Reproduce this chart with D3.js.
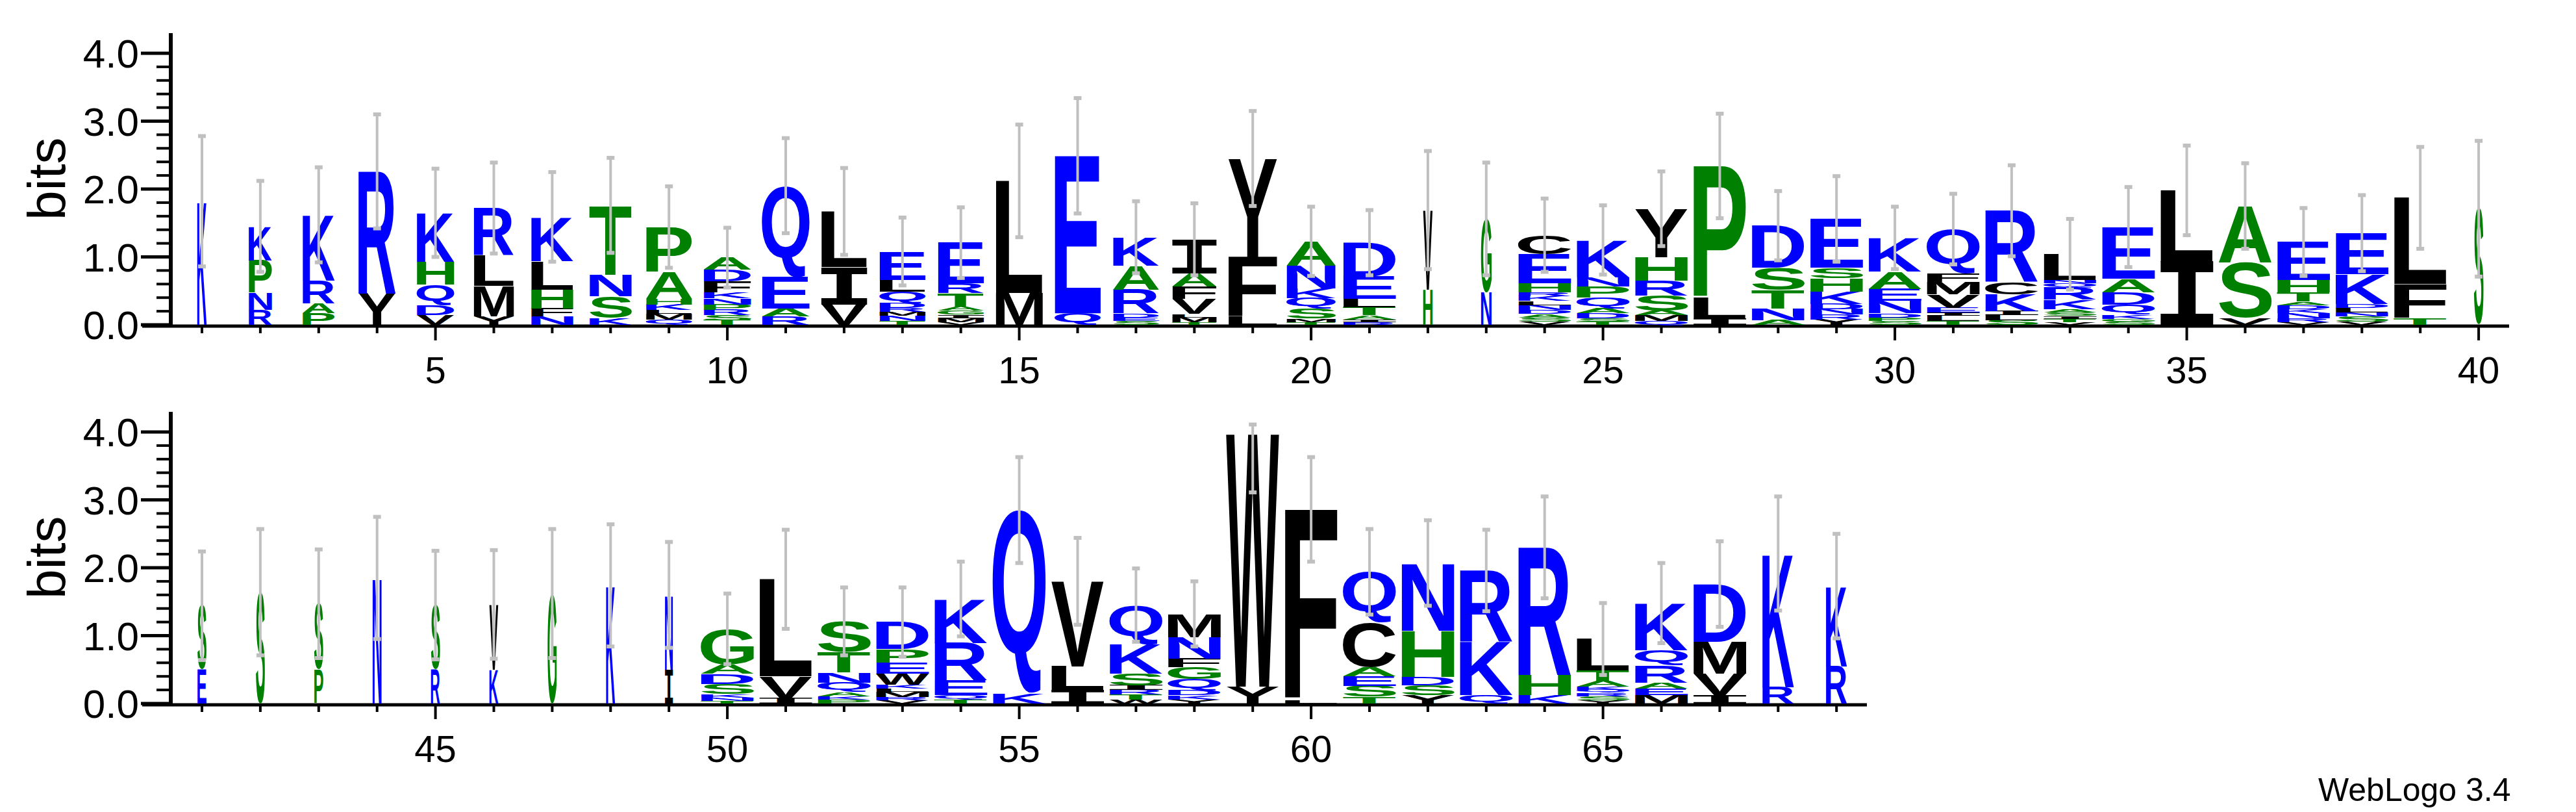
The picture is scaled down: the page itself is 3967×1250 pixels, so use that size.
<!DOCTYPE html>
<html><head><meta charset="utf-8">
<script src="https://cdn.jsdelivr.net/npm/d3@7"></script>
<style>body{margin:0;background:#fff}svg{display:block}</style>
</head><body>
<svg id="c" width="3967" height="1250"></svg>
<script>
// ---- data ----
const positions = d3.range(1, 70);
const stackLetters = [
 "K","RNPK","PARK","YR","VDQHK","YMLR","NFHLK","KSNT","QMLKHAP","TSRPNKFDA",
 "RAEQ","VIL","TNMRDQLE","VMIGATRE","ML","QE","SEDRAK","TMLVFAI","LFY","TMSQKNA",
 "RIATLED","HV","NG","VSADNLKRHEC","TSDAQPNK","QMASRHY","ILP","ANTSD","YRNDKHSE","SPDNEAK",
 "TLIEVMFQ","SLIKCR","VTISAKRQNL","SGKQDAE","IL","VSA","VRNKDATHE","VSNLDKE","TFL","S",
 "ES","S","PS","N","RS","KV","G","K","IN","TNKSDAG",
 "IVL","PKAQNTS","VRMLKWEPD","TQERK","KQ","ILV","WTRISKQ","YKDQGFNM","YW","LF",
 "TSEACQ","YSDHN","QKR","KHR","YSRQKATL","MEARQK","IVMD","RK","RK"];
const stackBits = [
 [1.82],[.22,.25,.48,.5],[.17,.15,.33,.97],[.46,1.8],[.14,.15,.3,.34,.72],[.12,.45,.45,.7],[.12,.12,.28,.42,.65],[.1,.32,.32,1.02],[.08,.08,.06,.08,.08,.4,.66],[.07,.07,.08,.08,.09,.09,.16,.17,.18],
 [.12,.12,.46,1.35],[.3,.55,.82],[.06,.07,.06,.06,.07,.17,.17,.42],[.04,.06,.05,.06,.06,.2,.14,.6],[.47,1.65],[.17,2.32],[.06,.05,.06,.35,.35,.42],[.04,.07,.05,.22,.18,.2,.5],[.12,.88,1.45],[.04,.05,.15,.15,.15,.33,.36],
 [.04,.04,.06,.12,.12,.33,.5],[.52,1.17],[.48,1.08],[.05,.06,.05,.06,.07,.06,.07,.06,.13,.43,.28],[.05,.05,.07,.07,.16,.16,.14,.55],[.06,.08,.07,.22,.22,.35,.71],[.1,.3,1.94],[.07,.17,.27,.33,.62],[.08,.07,.08,.08,.18,.2,.15,.72],[.06,.05,.06,.18,.18,.25,.5],
 [.06,.07,.05,.07,.2,.18,.12,.66],[.07,.07,.06,.25,.18,1.05],[.04,.05,.04,.05,.05,.14,.18,.06,.05,.38],[.05,.04,.06,.15,.18,.2,.76],[.93,1.05],[.1,.82,.83],[.04,.06,.07,.06,.06,.05,.14,.18,.56],[.05,.07,.06,.07,.06,.44,.6],[.1,.5,1.27],[1.71],
 [.5,.94],[1.64],[.5,.97],[1.85],[.5,.95],[.5,.96],[1.62],[1.74],[.5,1.1],[.04,.05,.05,.15,.15,.14,.52],
 [.08,.32,1.43],[.06,.05,.06,.14,.15,.3,.45],[.05,.05,.07,.05,.06,.16,.16,.2,.4],[.06,.06,.22,.55,.65],[.15,2.7],[.2,.35,1.25],[.06,.07,.07,.07,.17,.43,.58],[.06,.06,.07,.17,.17,.13,.32,.34],[.25,3.72],[.05,2.81],
 [.1,.16,.14,.14,.65,.75],[.12,.15,.12,.68,1.0],[.12,.8,1.04],[.12,.3,1.88],[.05,.06,.05,.04,.05,.08,.16,.46],[.12,.1,.09,.25,.22,.7],[.12,.32,.47,.85],[.24,1.97],[.55,1.18]];
const stackErr = [
 .96,.67,.7,.84,.65,.67,.66,.7,.6,.44,.7,.64,.5,.52,.83,.85,.53,.53,.7,.51,
 .48,.87,.83,.54,.51,.55,.77,.51,.63,.46,.52,.67,.52,.59,.66,.63,.5,.56,.75,1.0,
 .8,.93,.8,.9,.8,.8,.95,.9,.78,.52,.73,.5,.51,.55,.78,.64,.54,.48,.86,.77,
 .63,.63,.6,.75,.53,.59,.63,.84,.77];
const stackWidth = [
 .18,.44,.61,.71,.71,.76,.8,.8,.87,.9,.9,.87,.87,.87,.89,.87,.87,.84,.93,.93,
 1,.18,.2,1,1,1,1,1,1,1,1,1,1,1,1,1,1,1,1,.18,
 .17,.17,.17,.17,.17,.17,.17,.17,.15,1,1,1,1,1,1,1,1,1,1,1,
 1,1,1,1,1,1,1,.6,.4];
const yTicks = [0,1,2,3,4];
const xMajor = [5,10,15,20,25,30,35,40,45,50,55,60,65];
const blueSet = "KRNQDE", greenSet = "HPATSG";

// ---- drawing ----
const svg = d3.select("#c");
const FONT = "Liberation Sans, Arial, sans-serif";
const MONO = "DejaVu Sans Mono";
const cv = document.createElement("canvas").getContext("2d");
const metrics = {};
function fam(ch){ return ch==="I" ? MONO : "Liberation Sans"; }
function met(ch){
  if(!metrics[ch]){ cv.font = `bold 100px '${fam(ch)}'`; metrics[ch]=cv.measureText(ch); }
  return metrics[ch];
}
const color = ch => blueSet.includes(ch) ? "#0000ff" : greenSet.includes(ch) ? "#008000" : "#000000";
const errMax = 4.11;

const panels = [
 {from:1,to:40,zeroY:500,top:51,xEnd:3864},
 {from:41,to:69,zeroY:1083,top:634,xEnd:2875}];
const bitPx = 104.5, colW = 89.9, fullW = 82;

panels.forEach(p=>{
  const g = svg.append("g");
  const x = d3.scaleLinear().domain([p.from, p.from+1]).range([311, 311+colW]);
  const y = d3.scaleLinear().domain([0,4]).range([p.zeroY, p.zeroY-4*bitPx]);
  g.append("line").attr("x1",263).attr("x2",263).attr("y1",p.top).attr("y2",p.zeroY+2).attr("stroke","#000").attr("stroke-width",6);
  d3.range(0,21).forEach(i=>{
    const v=i*0.2, maj = i%5===0;
    g.append("line").attr("x1",263).attr("x2",263-(maj?46:22)).attr("y1",y(v)).attr("y2",y(v)).attr("stroke","#000").attr("stroke-width",maj?5:4);
  });
  g.selectAll(".yl").data(yTicks).join("text").attr("x",214).attr("y",d=>y(d)+22)
    .attr("text-anchor","end").attr("font-family",FONT).attr("font-size",62).text(d=>d.toFixed(1));
  g.append("text").attr("transform",`translate(100,${y(2.15)}) rotate(-90)`).attr("text-anchor","middle")
    .attr("font-family",FONT).attr("font-size",82).text("bits");
  g.append("line").attr("x1",219).attr("x2",p.xEnd).attr("y1",p.zeroY+2).attr("y2",p.zeroY+2).attr("stroke","#000").attr("stroke-width",5);
  const pos = positions.filter(d=>d>=p.from&&d<=p.to);
  pos.forEach(d=>{
    const maj = xMajor.includes(d);
    g.append("line").attr("x1",x(d)).attr("x2",x(d)).attr("y1",p.zeroY+2).attr("y2",p.zeroY+(maj?24:13)).attr("stroke","#000").attr("stroke-width",4);
  });
  g.selectAll(".xl").data(pos.filter(d=>xMajor.includes(d))).join("text").attr("x",d=>x(d)).attr("y",p.zeroY+90)
    .attr("text-anchor","middle").attr("font-family",FONT).attr("font-size",58).text(d=>d);
  pos.forEach(d=>{
    const i=d-1, letters=stackLetters[i], bits=stackBits[i];
    const w = fullW*stackWidth[i], x0 = x(d)-w/2;
    let cum=0;
    letters.split("").forEach((ch,k)=>{
      const b0=cum, b1=cum+bits[k]; cum=b1;
      const yb=y(b0), h=y(b0)-y(b1);
      const m=met(ch);
      const iw=m.actualBoundingBoxLeft+m.actualBoundingBoxRight, ih=m.actualBoundingBoxAscent+m.actualBoundingBoxDescent;
      const sx=w/iw, sy=h/ih;
      g.append("text").attr("font-family",ch==="I"?MONO:FONT).attr("font-weight","bold").attr("font-size",100)
        .attr("fill",color(ch))
        .attr("transform",`translate(${x0+m.actualBoundingBoxLeft*sx},${yb-m.actualBoundingBoxDescent*sy}) scale(${sx},${sy})`)
        .text(ch);
    });
    const e=stackErr[i], lo=y(cum-e), hi=y(Math.min(cum+e,errMax));
    const eg=g.append("g").attr("stroke","#c0c0c0");
    eg.append("line").attr("x1",x(d)).attr("x2",x(d)).attr("y1",lo).attr("y2",hi).attr("stroke-width",4);
    [lo,hi].forEach(yy=>eg.append("line").attr("x1",x(d)-6).attr("x2",x(d)+6).attr("y1",yy).attr("y2",yy).attr("stroke-width",6));
  });
});
svg.append("text").attr("x",3570).attr("y",1233).attr("font-family",FONT).attr("font-size",50).text("WebLogo 3.4");
</script>
</body></html>
